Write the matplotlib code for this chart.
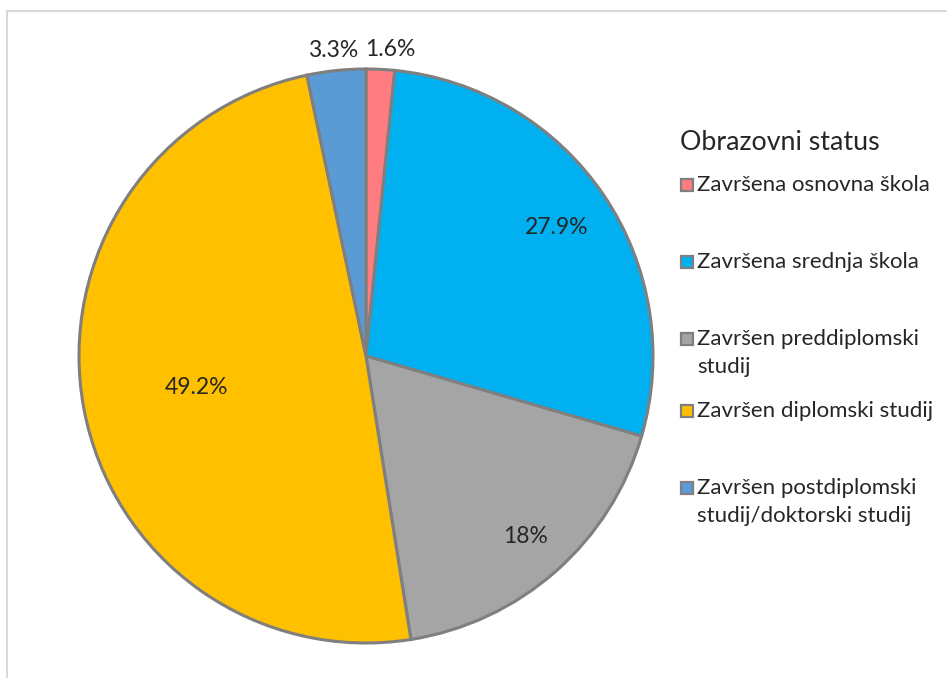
import numpy as np
import matplotlib
matplotlib.use("Agg")
import matplotlib.pyplot as plt
from matplotlib.patches import Rectangle
from matplotlib.lines import Line2D

plt.rcParams["font.family"] = ["Lato", "DejaVu Sans"]

# education status shares (%), clockwise from 12 o'clock
categories = [
    "Završena osnovna škola",
    "Završena srednja škola",
    "Završen preddiplomski\nstudij",
    "Završen diplomski studij",
    "Završen postdiplomski\nstudij/doktorski studij",
]
shares = [1.6, 27.9, 18.0, 49.2, 3.3]
share_labels = ["1.6%", "27.9%", "18%", "49.2%", "3.3%"]
colors = ["#FF7C80", "#00B0F0", "#A5A5A5", "#FFC000", "#5B9BD5"]
label_dist = [1.07, 0.80, 0.84, 0.60, 1.07]

W, H = 947, 678
fig = plt.figure(figsize=(W / 100, H / 100), dpi=100)

# pie axes: centre (366, 356) px, radius 287 px
cx, cy, r = 366, 356, 287
ax = fig.add_axes([(cx - r) / W, (H - cy - r) / H, 2 * r / W, 2 * r / H])
wedges, _ = ax.pie(shares, colors=colors, startangle=90, counterclock=False,
                   radius=1.0,
                   wedgeprops=dict(edgecolor="#7F7F7F", linewidth=2.2))
ax.set_xlim(-1, 1)
ax.set_ylim(-1, 1)
ax.set_aspect("equal")
ax.axis("off")

for w, lab, d in zip(wedges, share_labels, label_dist):
    ang = np.deg2rad((w.theta1 + w.theta2) / 2)
    x, y = d * np.cos(ang), d * np.sin(ang)
    if d > 1:
        x = x + (0.03 if x > 0 else -0.005)
    ax.text(x, y, lab, ha="center", va="center", fontsize=16.5, color="#262626")

# legend drawn by hand so each entry gets the same slot height
fig.text(680 / W, 1 - 143 / H, "Obrazovni status", fontsize=19.3,
         color="#262626", ha="left", va="center")
slot = 77
line_gap = 28
for i, (lab, col) in enumerate(zip(categories, colors)):
    ytop = 185 + i * slot - (5 if i > 2 else 0)
    fig.patches.append(Rectangle((681 / W, 1 - (ytop + 6) / H), 12 / W, 12 / H,
                                 transform=fig.transFigure, facecolor=col,
                                 edgecolor="#7F7F7F", linewidth=1.6))
    for k, part in enumerate(lab.split("\n")):
        fig.text(697 / W, 1 - (ytop + k * line_gap) / H, part, fontsize=16,
                 color="#262626", ha="left", va="center")

# chart frame edges
fig.add_artist(Line2D([7 / W, 1], [1 - 11 / H, 1 - 11 / H], transform=fig.transFigure,
                      color="#D9D9D9", linewidth=1.5))
fig.add_artist(Line2D([7 / W, 7 / W], [0, 1 - 11 / H], transform=fig.transFigure,
                      color="#D9D9D9", linewidth=1.5))

fig.savefig("out.png", dpi=100)
